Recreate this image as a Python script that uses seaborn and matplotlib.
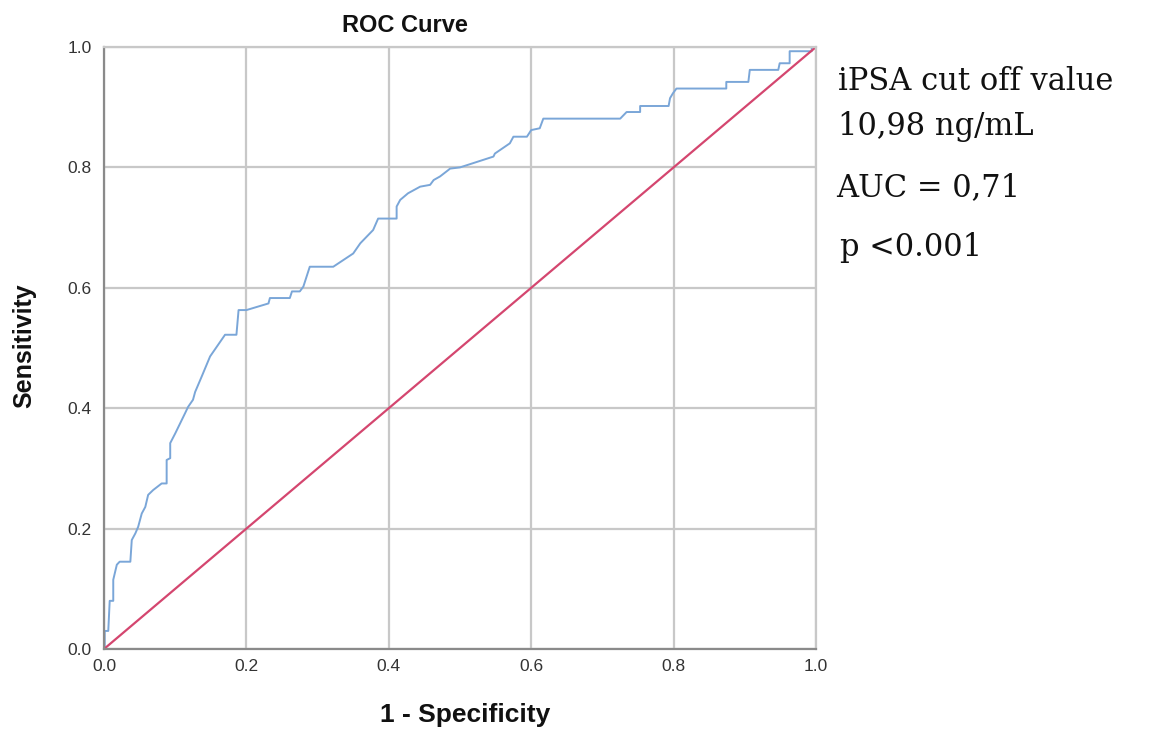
import matplotlib
matplotlib.use("Agg")
import matplotlib.pyplot as plt
import seaborn as sns
import pandas as pd

# ROC curve points (1 - specificity, sensitivity)
fpr = [0.000, 0.001, 0.001, 0.006, 0.008, 0.008, 0.013, 0.013, 0.018, 0.022, 0.037,
       0.039, 0.044, 0.048, 0.053, 0.058, 0.062, 0.069, 0.081, 0.088, 0.088, 0.093,
       0.093, 0.100, 0.107, 0.114, 0.118, 0.125, 0.128, 0.137, 0.149, 0.170, 0.186,
       0.189, 0.200, 0.231, 0.233, 0.261, 0.264, 0.275, 0.280, 0.289, 0.322, 0.350,
       0.360, 0.378, 0.385, 0.411, 0.411, 0.416, 0.427, 0.444, 0.458, 0.463, 0.472,
       0.484, 0.486, 0.500, 0.547, 0.549, 0.570, 0.575, 0.594, 0.600, 0.612, 0.617,
       0.725, 0.734, 0.753, 0.753, 0.793, 0.795, 0.799, 0.804, 0.874, 0.874, 0.905,
       0.907, 0.947, 0.949, 0.963, 0.963, 0.994, 0.994, 1.000]
tpr = [0.000, 0.004, 0.030, 0.030, 0.080, 0.080, 0.080, 0.115, 0.140, 0.145, 0.145,
       0.181, 0.192, 0.203, 0.225, 0.236, 0.256, 0.264, 0.275, 0.275, 0.314, 0.317,
       0.342, 0.358, 0.375, 0.392, 0.402, 0.414, 0.427, 0.452, 0.486, 0.522, 0.522,
       0.563, 0.563, 0.574, 0.583, 0.583, 0.594, 0.594, 0.602, 0.635, 0.635, 0.657,
       0.674, 0.696, 0.715, 0.715, 0.735, 0.746, 0.757, 0.768, 0.771, 0.779, 0.785,
       0.796, 0.798, 0.800, 0.818, 0.823, 0.840, 0.851, 0.851, 0.862, 0.865, 0.881,
       0.881, 0.892, 0.892, 0.902, 0.902, 0.915, 0.923, 0.931, 0.931, 0.942, 0.942,
       0.962, 0.962, 0.973, 0.973, 0.993, 0.993, 1.000, 1.000]
ref_x = [0.0, 1.0]
ref_y = [0.0, 1.0]
ticks = [0.0, 0.2, 0.4, 0.6, 0.8, 1.0]
tick_labels = ["0.0", "0.2", "0.4", "0.6", "0.8", "1.0"]
annotations = ["iPSA cut off value", "10,98 ng/mL", "AUC = 0,71", "p <0.001"]

sns.set_theme(style="white")
plt.rcParams['font.family'] = ['Liberation Sans', 'DejaVu Sans']

W, H = 1152, 729
fig = plt.figure(figsize=(W / 100, H / 100), dpi=100)
ax = fig.add_axes([104 / W, 1 - 649 / H, 712 / W, 602 / H])

df = pd.DataFrame({"fpr": fpr, "tpr": tpr})
sns.lineplot(data=df, x="fpr", y="tpr", sort=False, estimator=None,
             color="#7aa6d8", linewidth=1.4, ax=ax)
sns.lineplot(x=ref_x, y=ref_y, color="#d4466f", linewidth=1.6, ax=ax)

ax.set_xlim(0, 1)
ax.set_ylim(0, 1)
ax.set_xticks(ticks)
ax.set_xticklabels(tick_labels, fontsize=12.5, color="#333333")
ax.set_yticks(ticks)
ax.set_yticklabels(tick_labels, fontsize=12.5, color="#333333")
ax.tick_params(axis="x", length=0, pad=7)
ax.tick_params(axis="y", length=0, pad=9)
ax.grid(True, color="#c8c8c8", linewidth=1.6)
ax.set_axisbelow(True)
for side in ["top", "right"]:
    ax.spines[side].set_color("#c8c8c8")
    ax.spines[side].set_linewidth(1.6)
for side in ["left", "bottom"]:
    ax.spines[side].set_color("#8a8a8a")
    ax.spines[side].set_linewidth(1.6)
ax.set_xlabel("")
ax.set_ylabel("")

fig.text(465 / W, 1 - 715 / H, "1 - Specificity", fontsize=19, fontweight="bold",
         ha="center", va="center", color="#111111")
fig.text(24 / W, 1 - 346 / H, "Sensitivity", fontsize=18, fontweight="bold",
         ha="center", va="center", rotation=90, color="#111111")
fig.text(405 / W, 1 - 25 / H, "ROC Curve", fontsize=17, fontweight="bold",
         ha="center", va="center", color="#111111")

serif = ["DejaVu Serif"]
ypos = [82, 127, 188, 248]
xpos = [838, 838, 836, 840]
for t, xp, yp in zip(annotations, xpos, ypos):
    fig.text(xp / W, 1 - yp / H, t, fontsize=22, family=serif,
             ha="left", va="center", color="#111111")

fig.savefig("out.png", dpi=100)
